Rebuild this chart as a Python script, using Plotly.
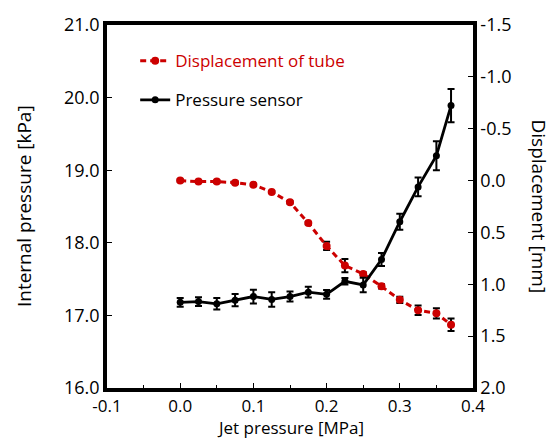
import plotly.graph_objects as go

jet_pressure = [0.0, 0.025, 0.05, 0.075, 0.1, 0.125, 0.15, 0.175, 0.2, 0.225, 0.25, 0.275, 0.3, 0.325, 0.35, 0.37]
internal_pressure = [17.18, 17.19, 17.16, 17.21, 17.26, 17.22, 17.26, 17.32, 17.29, 17.47, 17.42, 17.77, 18.29, 18.77, 19.20, 19.89]
pressure_err = [0.06, 0.06, 0.08, 0.085, 0.095, 0.1, 0.07, 0.075, 0.06, 0.045, 0.1, 0.09, 0.11, 0.13, 0.2, 0.23]
displacement = [0.00, 0.01, 0.01, 0.02, 0.04, 0.11, 0.21, 0.41, 0.63, 0.82, 0.90, 1.02, 1.15, 1.25, 1.28, 1.39]
displacement_err = [0.01, 0.01, 0.01, 0.01, 0.01, 0.01, 0.01, 0.01, 0.04, 0.065, 0.015, 0.02, 0.03, 0.045, 0.05, 0.06]

x_ticks = [-0.1, 0.0, 0.1, 0.2, 0.3, 0.4]
x_ticklabels = ["-0.1", "0.0", "0.1", "0.2", "0.3", "0.4"]
p_ticks = [16, 17, 18, 19, 20, 21]
p_ticklabels = ["16.0", "17.0", "18.0", "19.0", "20.0", "21.0"]
d_ticks = [-1.5, -1.0, -0.5, 0.0, 0.5, 1.0, 1.5, 2.0]
d_ticklabels = ["-1.5", "-1.0", "-0.5", "0.0", "0.5", "1.0", "1.5", "2.0"]

RED = "#cc0000"
FONT = "Open Sans"

fig = go.Figure()
fig.add_trace(go.Scatter(
    x=jet_pressure, y=displacement, yaxis="y", mode="lines+markers",
    name=f"<span style='color:{RED}'>Displacement of tube</span>",
    legendgroup="a",
    line=dict(color=RED, width=3, dash="6px,4px"),
    marker=dict(color=RED, size=8),
    error_y=dict(type="data", array=displacement_err, color="black", thickness=2, width=3.5),
))
fig.add_trace(go.Scatter(
    x=jet_pressure, y=internal_pressure, yaxis="y2", mode="lines+markers",
    name="Pressure sensor", legendgroup="b",
    line=dict(color="black", width=2.8),
    marker=dict(color="black", size=7),
    error_y=dict(type="data", array=pressure_err, color="black", thickness=2, width=3.5),
))

axis_common = dict(showline=True, linecolor="black", linewidth=3.5, ticks="inside",
                   ticklen=5, tickcolor="black", tickwidth=1, showgrid=False, zeroline=False,
                   tickfont=dict(family=FONT, size=18, color="black"))

x_common = dict(axis_common)
x_common["tickfont"] = dict(family=FONT, size=17, color="black")

fig.update_layout(
    width=552, height=441,
    margin=dict(l=107, r=79, t=23, b=53),
    paper_bgcolor="white", plot_bgcolor="white",
    font=dict(family=FONT, color="black"),
    xaxis=dict(range=[-0.1, 0.4], tickvals=x_ticks, ticktext=x_ticklabels, mirror=True,
               minor=dict(ticks="inside", dtick=0.05, ticklen=3, tickcolor="black", tickwidth=1),
               **x_common),
    yaxis=dict(range=[2.0, -1.5], side="right", tickvals=d_ticks, ticktext=d_ticklabels,
               **axis_common),
    yaxis2=dict(range=[16, 21], side="left", overlaying="y", tickvals=p_ticks,
                ticktext=p_ticklabels, **axis_common),
    showlegend=True,
    legend=dict(x=0.077, y=0.95, xanchor="left", yanchor="top", bgcolor="rgba(0,0,0,0)",
                font=dict(family=FONT, size=17, color="black"),
                traceorder="grouped", tracegroupgap=14),
    annotations=[
        dict(text="Jet pressure [MPa]", xref="paper", yref="paper", x=0.5, y=-0.1455,
             xanchor="center", yanchor="bottom", showarrow=False,
             font=dict(family=FONT, size=17, color="black")),
        dict(text="Internal pressure [kPa]", xref="paper", yref="paper", x=-0.228, y=0.5,
             xanchor="center", yanchor="middle", showarrow=False, textangle=-90,
             font=dict(family=FONT, size=19, color="black")),
        dict(text="Displacement [mm]", xref="paper", yref="paper", x=1.183, y=0.5,
             xanchor="center", yanchor="middle", showarrow=False, textangle=90,
             font=dict(family=FONT, size=19, color="black")),
    ],
)

fig.write_html("out.html")
